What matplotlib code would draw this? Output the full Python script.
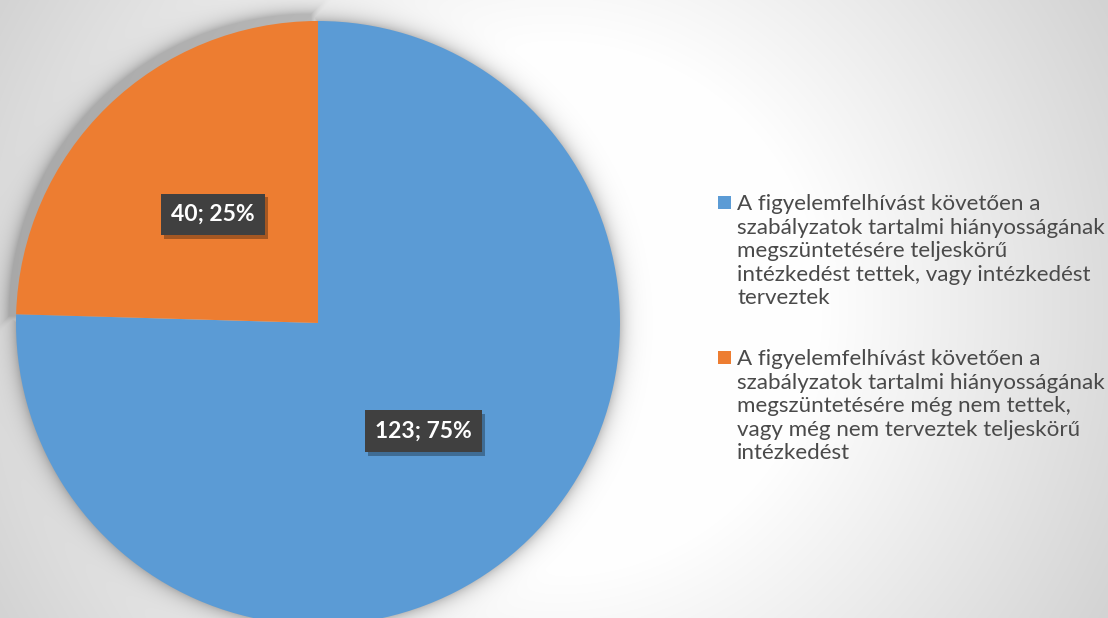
import numpy as np
import matplotlib
matplotlib.use("Agg")
import matplotlib.pyplot as plt
from matplotlib.patches import Rectangle
import matplotlib.patheffects as pe

plt.rcParams['font.family'] = ['Lato', 'DejaVu Sans']

# data
labels = [
    "A figyelemfelhívást követően a\nszabályzatok tartalmi hiányosságának\n"
    "megszüntetésére teljeskörű\nintézkedést tettek, vagy intézkedést\nterveztek",
    "A figyelemfelhívást követően a\nszabályzatok tartalmi hiányosságának\n"
    "megszüntetésére még nem tettek,\nvagy még nem terveztek teljeskörű\nintézkedést",
]
counts = [123, 40]
colors = ["#5B9BD5", "#ED7D31"]
explode = [0, 0.033]

W, H = 1108, 618
total = sum(counts)

fig = plt.figure(figsize=(W / 100, H / 100), dpi=100)

# pie geometry in pixel coords (y up)
cx, cy, R = 318, H - 323, 302

# background: radial gradient + soft shadow under the pie (rows from top)
rows, cols = np.mgrid[0:H, 0:W].astype(float)
px = cols + 0.5
py = rows + 0.5
rc = np.sqrt((px - W / 2.0) ** 2 + (py - H / 2.0) ** 2)
t = np.clip((rc - 260.0) / 374.0, 0.0, 1.0)
bg = 255.0 - 44.0 * t
pcx, pcy = cx, H - cy
# rough signed distances: blue = circle minus upper-left quadrant, orange = shifted quadrant
quad = np.maximum(px - pcx, py - pcy)
sd_blue = np.maximum(np.sqrt((px - pcx) ** 2 + (py - pcy) ** 2) - R, -quad)
ox, oy = pcx - 7, pcy - 7
sd_or = np.maximum(np.sqrt((px - ox) ** 2 + (py - oy) ** 2) - R,
                   np.maximum(px - ox, py - oy))
d = np.minimum(sd_blue, sd_or)
shade = 0.24 * np.exp(-np.clip(d, 0.0, 80.0) / 8.0)
img = np.clip(bg * (1.0 - shade), 0, 255) / 255.0
img = np.dstack([img, img, img])

bgax = fig.add_axes([0, 0, 1, 1], zorder=0)
bgax.imshow(img, aspect="auto", interpolation="nearest")
bgax.axis("off")

ax = fig.add_axes([0, 0, 1, 1], zorder=1)
ax.patch.set_visible(False)


def fmt(p):
    return f"{round(p * total / 100)}; {p:.0f}%"


wedges, texts, autotexts = ax.pie(
    counts, colors=colors, explode=explode, startangle=90, counterclock=False,
    center=(cx, cy), radius=R, autopct=fmt, pctdistance=0.5,
    wedgeprops=dict(linewidth=0),
    textprops=dict(color="white", fontsize=16.5, fontweight="bold"),
)
for w in wedges:
    w.set_zorder(2)
for at in autotexts:
    at.set_zorder(5)
    at.set_bbox(dict(boxstyle="square,pad=0.45", fc="#404040", ec="none", lw=0))
    at.get_bbox_patch().set_path_effects([
        pe.SimplePatchShadow(offset=(2.5, -2.5), shadow_rgbFace="black", alpha=0.3),
        pe.Normal(),
    ])

ax.set_xlim(0, W)
ax.set_ylim(0, H)
ax.set_aspect("auto")
ax.axis("off")

# legend
leg_top = [194, 349]
for lab, col, y in zip(labels, colors, leg_top):
    ax.add_patch(Rectangle((718, H - y - 15), 13, 13, fc=col, ec="none", zorder=3))
    ax.text(737, H - y, lab, ha="left", va="top", fontsize=16.1,
            color="#4a4a4a", linespacing=1.22, zorder=3)

fig.savefig("out.png", dpi=100)
